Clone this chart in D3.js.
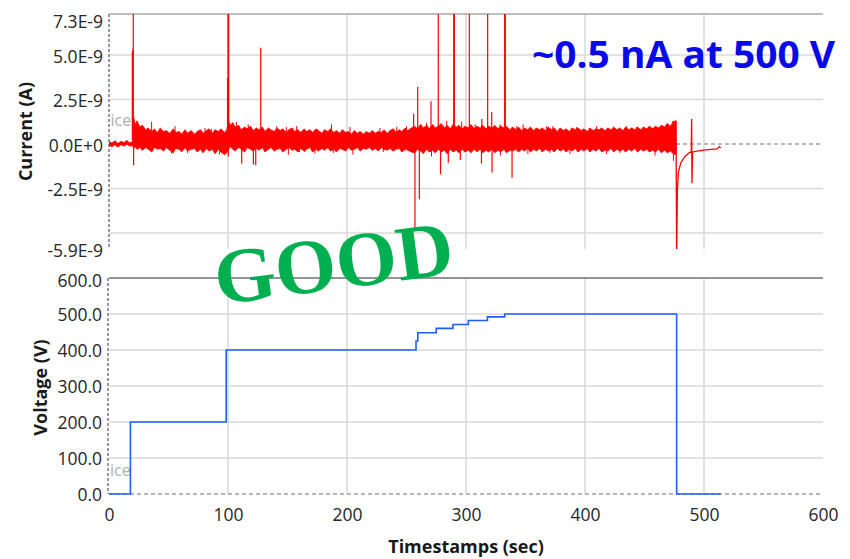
<!DOCTYPE html>
<html>
<head>
<meta charset="utf-8">
<script src="https://cdn.jsdelivr.net/npm/d3@7"></script>
<style>
  body { margin: 0; background: #fff; }
  svg { display: block; font-family: "Open Sans", sans-serif; }
</style>
</head>
<body>
<div id="chart"></div>
<script>
// Values. Time in s, current in nA (axis shows A), voltage in V.
const timeTicks = [0, 100, 200, 300, 400, 500, 600];

const currentTicks = [7.3, 5.0, 2.5, 0, -2.5, -5.9];
const currentTickLabels = ["7.3E-9", "5.0E-9", "2.5E-9", "0.0E+0", "-2.5E-9", "-5.9E-9"];
const currentGrid = [5.0, 2.5, -2.5, -5.0];

const voltageTicks = [0, 100, 200, 300, 400, 500, 600];
const voltageTickLabels = ["0.0", "100.0", "200.0", "300.0", "400.0", "500.0", "600.0"];

// bias steps (step-after)
const voltTimes  = [0, 18, 98.5, 258, 259.5, 275, 289, 302, 318, 332.5, 477, 514];
const voltValues = [0, 200, 400, 425, 448, 460, 471, 482, 492, 500, 0, 0];

// noise envelope of the current trace: [time, high, low]
const noiseBand = [
  [0, 0.12, -0.08], [2.5, 0.05, -0.15], [5, 0.18, -0.05], [7.5, 0.02, -0.18],
  [10, 0.15, -0.05], [12.5, 0.08, -0.12], [15, 0.2, -0.02], [17.5, 0.05, -0.12], [19.8, 0.15, -0.1],
  [20.8, 1.5, -0.25], [22, 1.1, -0.15], [23.5, 1.3, -0.3], [26, 0.95, -0.2], [28, 1.05, -0.35],
  [31, 0.8, -0.2], [33, 0.9, -0.3], [36, 0.7, -0.45], [38, 0.85, -0.2], [41, 0.65, -0.3],
  [43, 0.9, -0.25], [46, 0.7, -0.4], [48, 0.75, -0.2], [51, 0.6, -0.35], [54, 0.85, -0.5],
  [56, 0.65, -0.25], [59, 0.7, -0.3], [61, 0.55, -0.45], [64, 0.8, -0.2], [66, 0.6, -0.4],
  [69, 0.75, -0.3], [72, 0.55, -0.25], [74, 0.7, -0.45], [77, 0.8, -0.3], [79, 0.6, -0.5],
  [82, 0.75, -0.25], [84, 0.85, -0.4], [87, 0.6, -0.3], [89, 0.8, -0.55], [92, 0.7, -0.3],
  [94, 0.85, -0.45], [97, 0.65, -0.6], [99, 0.8, -0.5],
  [100.5, 1.3, -0.3], [102, 1.05, -0.15], [104, 1.2, -0.3], [106, 0.95, -0.4], [109, 1.05, -0.2],
  [111, 0.8, -0.3], [114, 0.95, -0.45], [116, 0.85, -0.2], [119, 1.0, -0.3], [121, 0.75, -0.4],
  [124, 0.9, -0.25], [126, 0.8, -0.35], [129, 0.95, -0.2], [131, 0.7, -0.45], [134, 0.9, -0.3],
  [136, 0.8, -0.2], [139, 0.7, -0.4], [141, 0.9, -0.3], [144, 0.75, -0.25], [146, 0.85, -0.45],
  [149, 0.65, -0.3], [151, 0.8, -0.2], [154, 0.9, -0.35], [156, 0.7, -0.3], [159, 0.8, -0.45],
  [161, 0.65, -0.25], [164, 0.85, -0.4], [166, 0.7, -0.3], [169, 0.8, -0.2], [171, 0.65, -0.45],
  [174, 0.85, -0.3], [176, 0.75, -0.4], [179, 0.6, -0.25], [181, 0.8, -0.35], [184, 0.7, -0.2],
  [186, 0.85, -0.4], [189, 0.65, -0.3], [191, 0.75, -0.45], [194, 0.6, -0.25], [196, 0.8, -0.3],
  [199, 0.65, -0.4], [201, 0.7, -0.2], [204, 0.55, -0.35], [206, 0.75, -0.3], [209, 0.6, -0.2],
  [211, 0.7, -0.4], [214, 0.55, -0.25], [216, 0.7, -0.3], [219, 0.6, -0.2], [221, 0.75, -0.35],
  [224, 0.6, -0.25], [226, 0.7, -0.4], [229, 0.65, -0.2], [231, 0.8, -0.3], [234, 0.6, -0.35],
  [236, 0.75, -0.25], [239, 0.85, -0.4], [241, 0.65, -0.3], [244, 0.8, -0.25], [246, 0.7, -0.45],
  [249, 0.9, -0.3], [251, 0.75, -0.35], [254, 0.9, -0.45],
  [257, 1.0, -0.5], [259, 0.85, -0.3], [262, 1.1, -0.4], [264, 0.9, -0.55], [267, 1.05, -0.3],
  [269, 0.85, -0.45], [272, 1.1, -0.35], [274, 0.9, -0.5], [277, 1.0, -0.3], [279, 1.15, -0.45],
  [282, 0.9, -0.35], [284, 1.05, -0.55], [287, 0.85, -0.3], [289, 1.1, -0.45], [292, 0.95, -0.35],
  [294, 1.05, -0.5], [297, 0.85, -0.3], [299, 1.0, -0.45], [302, 0.9, -0.35], [304, 1.1, -0.5],
  [307, 0.85, -0.3], [309, 1.0, -0.45], [312, 0.9, -0.3], [314, 1.05, -0.5], [317, 0.85, -0.35],
  [319, 1.0, -0.45], [322, 0.9, -0.3], [324, 1.05, -0.5], [327, 0.85, -0.35], [329, 1.0, -0.45],
  [332, 0.9, -0.3], [334, 1.0, -0.5], [337, 0.8, -0.35], [339, 0.95, -0.4],
  [342, 0.8, -0.3], [344, 0.95, -0.45], [347, 0.75, -0.3], [349, 0.9, -0.4], [352, 0.8, -0.25],
  [354, 0.95, -0.45], [357, 0.75, -0.3], [359, 0.9, -0.4], [362, 0.8, -0.25], [364, 0.9, -0.45],
  [367, 0.75, -0.3], [369, 0.95, -0.4], [372, 0.8, -0.3], [374, 0.9, -0.45], [377, 0.7, -0.25],
  [379, 0.9, -0.4], [382, 0.75, -0.3], [384, 0.85, -0.45], [387, 0.7, -0.3], [389, 0.9, -0.4],
  [392, 0.8, -0.25], [394, 0.9, -0.45], [397, 0.75, -0.3], [399, 0.85, -0.4], [402, 0.7, -0.25],
  [404, 0.9, -0.45], [407, 0.75, -0.3], [409, 0.85, -0.4], [412, 0.8, -0.25], [414, 0.9, -0.45],
  [417, 0.75, -0.35], [419, 0.9, -0.4], [422, 0.8, -0.25], [424, 0.95, -0.45], [427, 0.8, -0.3],
  [429, 0.9, -0.4], [432, 0.75, -0.3], [434, 0.95, -0.45], [437, 0.8, -0.3], [439, 0.9, -0.4],
  [442, 0.8, -0.25], [444, 0.95, -0.45], [447, 0.8, -0.3], [449, 0.95, -0.4], [452, 0.85, -0.3],
  [454, 1.0, -0.45], [457, 0.85, -0.35], [459, 1.0, -0.45], [462, 0.9, -0.3], [464, 1.05, -0.5],
  [467, 0.95, -0.35], [469, 1.15, -0.5], [472, 1.0, -0.4], [474, 1.25, -0.55], [476.5, 1.3, -0.6]
];

// big spikes: [time, peak]; values past 7.3 are cut by the frame
const spikes = [
  [19.6, 5.2], [20.0, 5.3], [20.4, 8], [20.7, -1.2],
  [99.6, 3.7], [100.0, 8], [100.2, -0.7], [100.3, 3.6], [100.6, 8],
  [111.5, -1.1], [121.3, -1.15], [123.3, -1.2], [127.5, 5.4],
  [256.0, 1.7], [257.1, -4.7], [259.4, 3.2], [260.8, -3.1], [270.6, 2.4],
  [276.7, 8], [278.6, -1.7], [285.1, -1.05], [289.7, 8], [290.2, 8],
  [295.2, -0.9], [302.8, 8], [313.0, -1.1], [313.3, 1.4], [318.2, 8],
  [321.6, 1.8], [321.9, -1.6], [332.5, 8], [333.0, 8], [338.7, -1.9]
];

// small excursions on the noise edges
const smallSpikes = [
  [35.8, 1.25], [52.7, -0.55], [55.5, 1.0], [66, -0.5], [80.7, 0.9], [86, 0.85],
  [93, -0.6], [107, 1.25], [117, 1.1], [141, 1.0], [149, 0.95], [150.7, -0.6],
  [157.7, 1.0], [160, -0.45], [164.7, -0.45], [173, -0.55], [187, 1.1], [188.5, -0.5],
  [202.5, 0.95], [205, -0.6], [227.7, 0.9], [230.5, -0.45], [241.8, 0.95], [247, -0.4],
  [250, 1.0], [267, 1.2], [271, -0.7], [283.8, 1.3], [296.4, 1.25], [307.6, 1.1],
  [328.6, 1.1], [328.9, -0.65], [342.6, 1.0], [348, 1.1], [352, -0.56], [367.8, 1.0],
  [370.6, -0.5], [373, 1.0], [387.4, -0.56], [393, 0.95], [409.8, 1.0], [418, -0.56],
  [429.4, -0.5], [435, 1.0], [443.5, 0.95], [458.8, -0.65], [465.8, 1.0], [474, 1.3],
  [474.3, -0.95]
];

// discharge after the bias is switched off
const tailTimes  = [476.5, 477, 477.6, 478.5, 480.5, 484, 487.5, 489.3, 489.6, 489.9, 490.4, 494, 500, 506, 511, 513, 514];
const tailValues = [1.3, -6.5, -2.7, -1.6, -1.05, -0.7, -0.5, -0.45, 1.4, -2.2, -0.45, -0.4, -0.35, -0.3, -0.28, -0.15, -0.22];

const width = 850, height = 559;
const red = "#ff0000", blue = "#1f5ff5", gridColor = "#dadada";

const svg = d3.select("#chart").append("svg")
  .attr("width", width)
  .attr("height", height);

const x = d3.scaleLinear().domain([0, 600]).range([109, 823]);
const yCur = d3.scaleLinear().domain([-5.9, 7.3]).range([249, 14]);
const yVolt = d3.scaleLinear().domain([0, 600]).range([494, 278]);

svg.append("defs").append("clipPath").attr("id", "clipTop")
  .append("rect")
  .attr("x", x(0)).attr("y", yCur(7.3))
  .attr("width", x(600) - x(0)).attr("height", yCur(-5.9) - yCur(7.3));

// vertical grid, both panels
const innerTimes = timeTicks.filter(t => t > 0 && t < 600);
[[yCur(7.3), yCur(-5.9)], [yVolt(600), yVolt(0)]].forEach(([y0, y1]) => {
  svg.append("g").selectAll("line").data(innerTimes).join("line")
    .attr("x1", d => x(d)).attr("x2", d => x(d))
    .attr("y1", y0).attr("y2", y1)
    .attr("stroke", gridColor).attr("stroke-width", 1.6);
});

// horizontal grid
svg.append("g").selectAll("line").data(currentGrid).join("line")
  .attr("x1", x(0)).attr("x2", x(600))
  .attr("y1", d => yCur(d)).attr("y2", d => yCur(d))
  .attr("stroke", gridColor).attr("stroke-width", 1.6);
svg.append("g").selectAll("line").data(voltageTicks.filter(v => v > 0 && v < 600)).join("line")
  .attr("x1", x(0)).attr("x2", x(600))
  .attr("y1", d => yVolt(d)).attr("y2", d => yVolt(d))
  .attr("stroke", gridColor).attr("stroke-width", 1.6);

// frames
svg.append("line")
  .attr("x1", x(0)).attr("x2", x(600)).attr("y1", yCur(7.3)).attr("y2", yCur(7.3))
  .attr("stroke", "#a8a8a8").attr("stroke-width", 1.6);
svg.append("line")
  .attr("x1", x(0)).attr("x2", x(600)).attr("y1", yVolt(600)).attr("y2", yVolt(600))
  .attr("stroke", "#707070").attr("stroke-width", 1.5);

// dashed zero lines and dashed left axes
svg.append("line")
  .attr("x1", x(0)).attr("x2", x(600)).attr("y1", yCur(0)).attr("y2", yCur(0))
  .attr("stroke", "#a0a0a0").attr("stroke-width", 1.5).attr("stroke-dasharray", "4,3");
svg.append("line")
  .attr("x1", x(0)).attr("x2", x(600)).attr("y1", yVolt(0)).attr("y2", yVolt(0))
  .attr("stroke", "#a0a0a0").attr("stroke-width", 1.5).attr("stroke-dasharray", "4,3");
svg.append("line")
  .attr("x1", x(0)).attr("x2", x(0)).attr("y1", yCur(7.3)).attr("y2", yCur(-5.9))
  .attr("stroke", "#999").attr("stroke-width", 2).attr("stroke-dasharray", "3,2");
svg.append("line")
  .attr("x1", x(0) - 1).attr("x2", x(0) - 1).attr("y1", yVolt(600)).attr("y2", yVolt(0))
  .attr("stroke", "#999").attr("stroke-width", 2).attr("stroke-dasharray", "3,2");

// faint clipped legend text
svg.append("text").attr("x", x(0) + 1.5).attr("y", 126)
  .attr("font-size", 16).attr("fill", "#b0b0b0").text("ice");
svg.append("text").attr("x", x(0) + 1).attr("y", 476)
  .attr("font-size", 16).attr("fill", "#b0b0b0").text("ice");

// current trace
const topPanel = svg.append("g").attr("clip-path", "url(#clipTop)");

topPanel.append("path")
  .datum(noiseBand)
  .attr("d", d3.area()
    .x(d => x(d[0]))
    .y0(d => yCur(d[2]))
    .y1(d => yCur(d[1])))
  .attr("fill", red)
  .attr("stroke", red)
  .attr("stroke-width", 0.8);

const spikeLine = d3.line().x(d => x(d[0])).y(d => yCur(d[1]));

topPanel.append("g").selectAll("path").data(smallSpikes).join("path")
  .attr("d", d => spikeLine([[d[0], 0.25], d]))
  .attr("stroke", red).attr("stroke-width", 1).attr("fill", "none");

topPanel.append("g").selectAll("path").data(spikes).join("path")
  .attr("d", d => spikeLine([[d[0], 0.25], d]))
  .attr("stroke", red).attr("stroke-width", 1.2).attr("fill", "none");

topPanel.append("path")
  .datum(tailTimes.map((t, i) => [t, tailValues[i]]))
  .attr("d", spikeLine)
  .attr("stroke", red).attr("stroke-width", 1.3).attr("fill", "none");

// voltage trace
svg.append("path")
  .datum(voltTimes.map((t, i) => [t, voltValues[i]]))
  .attr("d", d3.line().curve(d3.curveStepAfter).x(d => x(d[0])).y(d => yVolt(d[1])))
  .attr("stroke", blue).attr("stroke-width", 1.6).attr("fill", "none");

// axes (labels only)
const tickColor = "#262626";

const curAxis = svg.append("g")
  .attr("transform", `translate(${x(0)},0)`)
  .call(d3.axisLeft(yCur).tickValues(currentTicks)
    .tickFormat((d, i) => currentTickLabels[i]).tickSize(0).tickPadding(6));
curAxis.select(".domain").remove();
curAxis.selectAll("text")
  .attr("font-family", "Open Sans").attr("font-size", 17.5).attr("fill", tickColor)
  .attr("dy", d => d === 7.3 ? "0.75em" : "0.42em");

const voltAxis = svg.append("g")
  .attr("transform", `translate(${x(0) - 1},0)`)
  .call(d3.axisLeft(yVolt).tickValues(voltageTicks)
    .tickFormat((d, i) => voltageTickLabels[i]).tickSize(0).tickPadding(6));
voltAxis.select(".domain").remove();
voltAxis.selectAll("text")
  .attr("font-family", "Open Sans").attr("font-size", 17.5).attr("fill", tickColor)
  .attr("dy", d => d === 600 ? "0.5em" : "0.36em");

const timeAxis = svg.append("g")
  .attr("transform", `translate(0,${yVolt(0)})`)
  .call(d3.axisBottom(x).tickValues(timeTicks).tickFormat(d3.format("d")).tickSize(0).tickPadding(15));
timeAxis.select(".domain").remove();
timeAxis.selectAll("text")
  .attr("font-family", "Open Sans").attr("font-size", 17.5).attr("fill", tickColor);

// axis titles
svg.append("text")
  .attr("x", 466).attr("y", 553)
  .attr("text-anchor", "middle")
  .attr("font-size", 18).attr("font-weight", "bold").attr("fill", "#1a1a1a")
  .text("Timestamps (sec)");
svg.append("text")
  .attr("transform", "translate(32,131.5) rotate(-90)")
  .attr("text-anchor", "middle")
  .attr("font-size", 18).attr("font-weight", "bold").attr("fill", "#1a1a1a")
  .text("Current (A)");
svg.append("text")
  .attr("transform", "translate(47,387.5) rotate(-90)")
  .attr("text-anchor", "middle")
  .attr("font-size", 18).attr("font-weight", "bold").attr("fill", "#1a1a1a")
  .text("Voltage (V)");

// annotations
svg.append("text")
  .attr("x", 532).attr("y", 68)
  .attr("font-size", 37).attr("font-weight", "bold").attr("fill", "#0a0ae8")
  .attr("textLength", 303).attr("lengthAdjust", "spacingAndGlyphs")
  .text("~0.5 nA at 500 V");

svg.append("text")
  .attr("transform", "translate(337,289) rotate(-7.5)")
  .attr("text-anchor", "middle")
  .attr("font-family", "Liberation Serif, serif")
  .attr("font-size", 78).attr("font-weight", "bold").attr("fill", "#00b050")
  .attr("textLength", 240).attr("lengthAdjust", "spacingAndGlyphs")
  .text("GOOD");
</script>
</body>
</html>
